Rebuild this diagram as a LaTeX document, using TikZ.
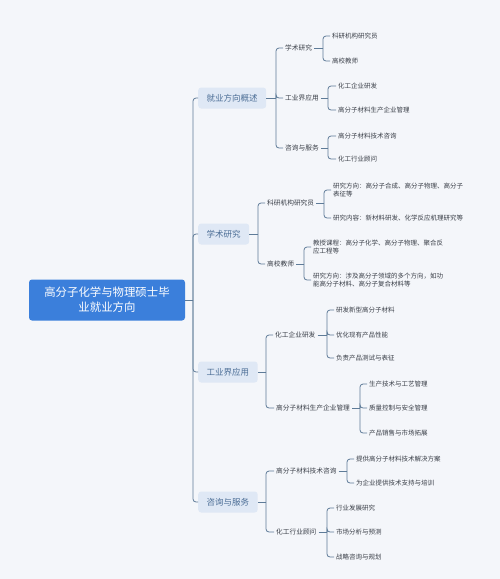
\documentclass[tikz,border=0pt]{standalone}
\usepackage{fontspec}
\setmainfont{Noto Sans CJK SC}
\definecolor{bgc}{HTML}{F4F6FA}
\definecolor{rootc}{HTML}{3B7FDB}
\definecolor{lonefill}{HTML}{DFE8F5}
\definecolor{lonetext}{HTML}{4C6E96}
\definecolor{linec}{HTML}{5E7B98}
\definecolor{leaftext}{HTML}{3A3F48}
\tikzset{
  rootbox/.style={fill=rootc, rounded corners=3pt, text=white, align=center,
    font=\fontsize{11.4}{15}\selectfont, minimum width=156pt, minimum height=41pt, inner sep=0pt},
  lone/.style={anchor=west, fill=lonefill, rounded corners=3pt, text=lonetext,
    font=\fontsize{8.5}{10}\selectfont, minimum height=21pt, inner xsep=8.5pt, inner ysep=0pt},
  ltwo/.style={anchor=west, text=leaftext, font=\fontsize{6.7}{8.4}\selectfont, inner xsep=2pt, inner ysep=1pt},
  leaf/.style={anchor=west, text=leaftext, font=\fontsize{6.5}{8.4}\selectfont, inner xsep=2pt, inner ysep=1pt, align=left},
  conn/.style={draw=linec, line width=0.8pt},
  brk/.style={draw=linec, line width=0.8pt, rounded corners=3pt},
}
\begin{document}
\begin{tikzpicture}[x=1pt,y=-1pt]
\fill[bgc] (0,0) rectangle (500,579);
\useasboundingbox (0,0) rectangle (500,579);

% root
\node[rootbox] (root) at (107,300) {高分子化学与物理硕士毕\\业就业方向};
\coordinate (jr) at (193,300);

% level 1
\node[lone] (L1) at (198,98) {就业方向概述};
\node[lone] (L2) at (198,234) {学术研究};
\node[lone] (L3) at (198,372) {工业界应用};
\node[lone] (L4) at (198,502) {咨询与服务};

\draw[conn] (root.east) -- (jr);
\foreach \n in {L1,L2,L3,L4} \draw[brk] (jr) |- (\n.west);

% ---- 就业方向概述
\coordinate (j1) at (276,98);
\node[ltwo] (a1) at (283,48) {学术研究};
\node[ltwo] (a2) at (283,98) {工业界应用};
\node[ltwo] (a3) at (283,148) {咨询与服务};
\draw[conn] (L1.east) -- (j1);
\foreach \n in {a1,a2,a3} \draw[brk] (j1) |- (\n.west);

\coordinate (ja1) at (323,48);
\node[leaf] (a11) at (330,36) {科研机构研究员};
\node[leaf] (a12) at (330,61) {高校教师};
\draw[conn] (a1.east) -- (ja1);
\foreach \n in {a11,a12} \draw[brk] (ja1) |- (\n.west);

\coordinate (ja2) at (328,98);
\node[leaf] (a21) at (336,86) {化工企业研发};
\node[leaf] (a22) at (336,110) {高分子材料生产企业管理};
\draw[conn] (a2.east) -- (ja2);
\foreach \n in {a21,a22} \draw[brk] (ja2) |- (\n.west);

\coordinate (ja3) at (328,148);
\node[leaf] (a31) at (336,136) {高分子材料技术咨询};
\node[leaf] (a32) at (336,159) {化工行业顾问};
\draw[conn] (a3.east) -- (ja3);
\foreach \n in {a31,a32} \draw[brk] (ja3) |- (\n.west);

% ---- 学术研究
\coordinate (j2) at (258,234);
\node[ltwo] (b1) at (265,203) {科研机构研究员};
\node[ltwo] (b2) at (265,264) {高校教师};
\draw[conn] (L2.east) -- (j2);
\foreach \n in {b1,b2} \draw[brk] (j2) |- (\n.west);

\coordinate (jb1) at (324,203);
\node[leaf] (b11) at (331,190) {研究方向：高分子合成、高分子物理、高分子\\表征等};
\node[leaf] (b12) at (331,218) {研究内容：新材料研发、化学反应机理研究等};
\draw[conn] (b1.east) -- (jb1);
\foreach \n in {b11,b12} \draw[brk] (jb1) |- (\n.west);

\coordinate (jb2) at (304,264);
\node[leaf] (b21) at (311,247) {教授课程：高分子化学、高分子物理、聚合反\\应工程等};
\node[leaf] (b22) at (311,280) {研究方向：涉及高分子领域的多个方向，如功\\能高分子材料、高分子复合材料等};
\draw[conn] (b2.east) -- (jb2);
\foreach \n in {b21,b22} \draw[brk] (jb2) |- (\n.west);

% ---- 工业界应用
\coordinate (j3) at (266,372);
\node[ltwo] (c1) at (273,335) {化工企业研发};
\node[ltwo] (c2) at (274,408) {高分子材料生产企业管理};
\draw[conn] (L3.east) -- (j3);
\foreach \n in {c1,c2} \draw[brk] (j3) |- (\n.west);

\coordinate (jc1) at (327,335);
\node[leaf] (c11) at (334,310) {研发新型高分子材料};
\node[leaf] (c12) at (334,335) {优化现有产品性能};
\node[leaf] (c13) at (334,358) {负责产品测试与表征};
\draw[conn] (c1.east) -- (jc1);
\foreach \n in {c11,c12,c13} \draw[brk] (jc1) |- (\n.west);

\coordinate (jc2) at (360,408);
\node[leaf] (c21) at (367,384) {生产技术与工艺管理};
\node[leaf] (c22) at (367,408) {质量控制与安全管理};
\node[leaf] (c23) at (367,433) {产品销售与市场拓展};
\draw[conn] (c2.east) -- (jc2);
\foreach \n in {c21,c22,c23} \draw[brk] (jc2) |- (\n.west);

% ---- 咨询与服务
\coordinate (j4) at (266,502);
\node[ltwo] (d1) at (274,471) {高分子材料技术咨询};
\node[ltwo] (d2) at (274,532) {化工行业顾问};
\draw[conn] (L4.east) -- (j4);
\foreach \n in {d1,d2} \draw[brk] (j4) |- (\n.west);

\coordinate (jd1) at (347,471);
\node[leaf] (d11) at (354,459) {提供高分子材料技术解决方案};
\node[leaf] (d12) at (354,483) {为企业提供技术支持与培训};
\draw[conn] (d1.east) -- (jd1);
\foreach \n in {d11,d12} \draw[brk] (jd1) |- (\n.west);

\coordinate (jd2) at (327,532);
\node[leaf] (d21) at (334,508) {行业发展研究};
\node[leaf] (d22) at (334,532) {市场分析与预测};
\node[leaf] (d23) at (334,557) {战略咨询与规划};
\draw[conn] (d2.east) -- (jd2);
\foreach \n in {d21,d22,d23} \draw[brk] (jd2) |- (\n.west);
\end{tikzpicture}
\end{document}
